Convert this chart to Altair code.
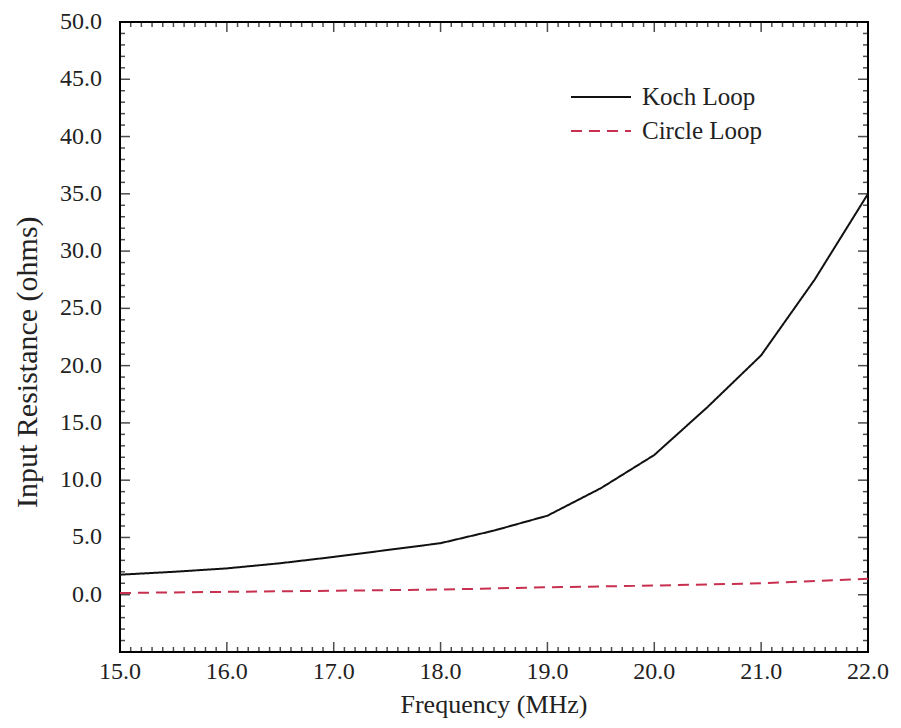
import altair as alt
import pandas as pd

# ---- data ----
koch_freq = [15.0, 15.5, 16.0, 16.5, 17.0, 17.5, 18.0, 18.5, 19.0, 19.5, 20.0, 20.5, 21.0, 21.5, 22.0]
koch_res = [1.75, 2.0, 2.3, 2.75, 3.3, 3.9, 4.5, 5.6, 6.9, 9.3, 12.2, 16.4, 20.9, 27.5, 35.0]
circle_freq = [15.0, 16.0, 17.0, 18.0, 19.0, 20.0, 21.0, 22.0]
circle_res = [0.15, 0.25, 0.35, 0.45, 0.65, 0.8, 1.0, 1.4]
series_names = ["Koch Loop", "Circle Loop"]
series_colors = ["#111111", "#c8304f"]

x_label_values = [15, 16, 17, 18, 19, 20, 21, 22]
y_label_values = [0, 5, 10, 15, 20, 25, 30, 35, 40, 45, 50]
x_minor_values = [round(15 + i / 10, 1) for i in range(71)]
y_minor_values = list(range(-5, 51))
x_title = "Frequency (MHz)"
y_title = "Input Resistance (ohms)"

X_MIN, X_MAX = 15, 22
Y_MIN, Y_MAX = -5, 50

W, H = 748, 630
FONT = "Liberation Serif"
TXT = "#222222"

df = pd.concat([
    pd.DataFrame({"freq": koch_freq, "res": koch_res, "series": series_names[0]}),
    pd.DataFrame({"freq": circle_freq, "res": circle_res, "series": series_names[1]}),
])

# tick tables (length doubled: the outer half of each tick is clipped by the frame)
xticks = pd.DataFrame({
    "v": x_minor_values,
    "len": [20 if abs(v - round(v)) < 1e-6 else 10 for v in x_minor_values],
})
yticks = pd.DataFrame({
    "v": y_minor_values,
    "len": [20 if v % 5 == 0 else 10 for v in y_minor_values],
})
xlabels = pd.DataFrame({"v": x_label_values, "t": [f"{v:.1f}" for v in x_label_values]})
ylabels = pd.DataFrame({"v": y_label_values, "t": [f"{v:.1f}" for v in y_label_values]})

xscale = alt.Scale(domain=[X_MIN, X_MAX], nice=False, zero=False)
yscale = alt.Scale(domain=[Y_MIN, Y_MAX], nice=False, zero=False)

legend = alt.Legend(title=None, orient="none", legendX=450, legendY=60,
                    symbolType="stroke", symbolSize=3600, symbolStrokeWidth=2,
                    labelFont=FONT, labelFontSize=25, labelColor=TXT,
                    labelOffset=10, clipHeight=30, rowPadding=4)

lines = alt.Chart(df).mark_line(strokeWidth=2).encode(
    x=alt.X("freq:Q", scale=xscale, axis=None),
    y=alt.Y("res:Q", scale=yscale, axis=None),
    color=alt.Color("series:N", scale=alt.Scale(domain=series_names, range=series_colors), legend=legend),
    strokeDash=alt.StrokeDash("series:N", scale=alt.Scale(domain=series_names, range=[[1, 0], [11, 7]]),
                              legend=legend),
)


def xtick_layer(edge):
    return alt.Chart(xticks).mark_tick(clip=True, orient="vertical", thickness=1.5, color="black").encode(
        x=alt.X("v:Q", scale=xscale, axis=None),
        y=alt.YDatum(edge, scale=yscale, axis=None),
        size=alt.Size("len:Q", scale=None, legend=None),
    )


def ytick_layer(edge):
    return alt.Chart(yticks).mark_tick(clip=True, orient="horizontal", thickness=1.5, color="black").encode(
        y=alt.Y("v:Q", scale=yscale, axis=None),
        x=alt.XDatum(edge, scale=xscale, axis=None),
        size=alt.Size("len:Q", scale=None, legend=None),
    )


xlab_layer = alt.Chart(xlabels).mark_text(
    font=FONT, fontSize=24, color=TXT, align="center", baseline="top", dy=8
).encode(
    x=alt.X("v:Q", scale=xscale, axis=None),
    y=alt.YDatum(Y_MIN, scale=yscale, axis=None),
    text="t:N",
)

ylab_layer = alt.Chart(ylabels).mark_text(
    font=FONT, fontSize=24, color=TXT, align="right", baseline="middle", dx=-18
).encode(
    y=alt.Y("v:Q", scale=yscale, axis=None),
    x=alt.XDatum(X_MIN, scale=xscale, axis=None),
    text="t:N",
)

xtitle_layer = alt.Chart(pd.DataFrame({"t": [x_title]})).mark_text(
    font=FONT, fontSize=26, color=TXT, align="center", baseline="top", dy=40
).encode(
    x=alt.XDatum((X_MIN + X_MAX) / 2, scale=xscale, axis=None),
    y=alt.YDatum(Y_MIN, scale=yscale, axis=None),
    text="t:N",
)

ytitle_layer = alt.Chart(pd.DataFrame({"t": [y_title]})).mark_text(
    font=FONT, fontSize=30, color=TXT, align="center", baseline="middle", angle=270
).encode(
    x=alt.XDatum(14.14, scale=xscale, axis=None),
    y=alt.YDatum(20.3, scale=yscale, axis=None),
    text="t:N",
)

chart = alt.layer(
    lines,
    xtick_layer(Y_MIN), xtick_layer(Y_MAX),
    ytick_layer(X_MIN), ytick_layer(X_MAX),
    xlab_layer, ylab_layer, xtitle_layer, ytitle_layer,
).properties(
    width=W, height=H,
    autosize=alt.AutoSizeParams(type="none"),
    padding={"left": 112, "top": 14, "right": 22, "bottom": 68},
    background="white",
).configure_view(stroke="black", strokeWidth=2)

chart.save("out.html", embed_options={"renderer": "svg", "actions": False})
